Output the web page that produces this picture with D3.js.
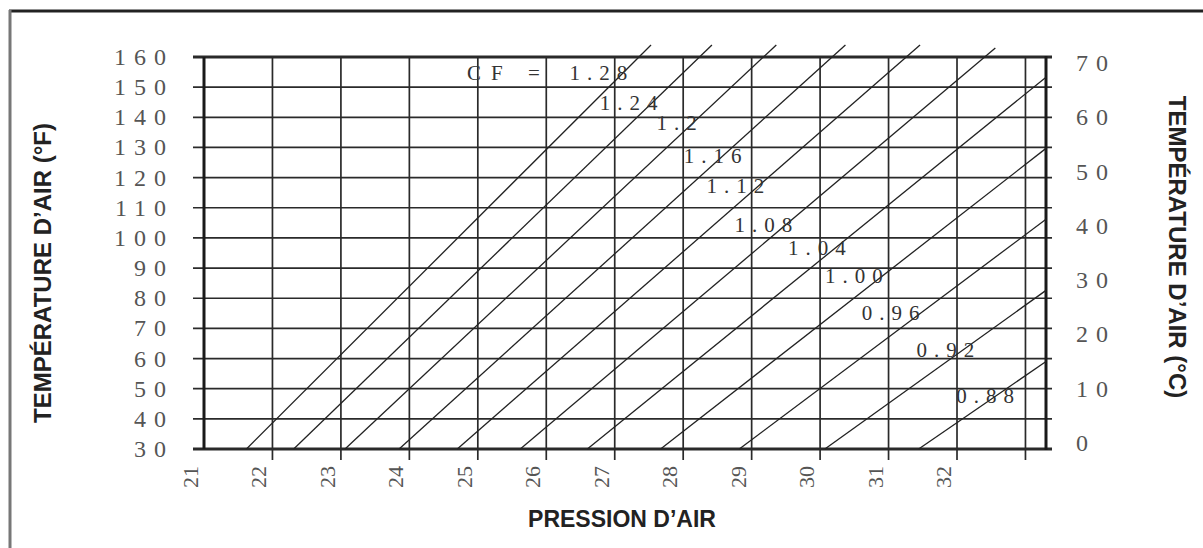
<!DOCTYPE html>
<html>
<head>
<meta charset="utf-8">
<script src="https://cdn.jsdelivr.net/npm/d3@7"></script>
<style>
  html, body { margin: 0; padding: 0; background: #fff; }
  svg { display: block; }
</style>
</head>
<body>
<svg id="chart" width="1203" height="548"></svg>
<script>
// Air pressure (inHg) grid lines and tick labels
const pressureTicks = [21, 22, 23, 24, 25, 26, 27, 28, 29, 30, 31, 32];
const pressureGrid = [22, 23, 24, 25, 26, 27, 28, 29, 30, 31, 32, 33];
// Air temperature ticks
const tempFTicks = [30, 40, 50, 60, 70, 80, 90, 100, 110, 120, 130, 140, 150, 160];
const tempCTicks = [0, 10, 20, 30, 40, 50, 60, 70];

// Correction factor (CF) lines
const cfValues = [1.28, 1.24, 1.20, 1.16, 1.12, 1.08, 1.04, 1.00, 0.96, 0.92, 0.88];
const cfLabels = ["1.28", "1.24", "1.2", "1.16", "1.12", "1.08", "1.04", "1.00", "0.96", "0.92", "0.88"];
// each CF line: pressure where it leaves 30 °F, and its upper end (pressure, °F)
const cfStartP = [21.62, 22.31, 23.06, 23.85, 24.70, 25.62, 26.60, 27.67, 28.82, 30.07, 31.44];
const cfEndP   = [27.53, 28.42, 29.36, 30.37, 31.46, 32.56, 33.30, 33.30, 33.30, 33.30, 33.30];
const cfEndT   = [164, 164, 164, 164, 164, 163, 153.3, 129.7, 106.2, 82.6, 59.0];
// where each CF value is written (pressure, °F at text baseline start)
const cfLabelP = [26.34, 26.78, 27.61, 28.01, 28.34, 28.75, 29.53, 30.07, 30.61, 31.41, 31.99];
const cfLabelT = [152.4, 142.4, 135.8, 124.9, 114.9, 102.0, 94.3, 85.1, 72.8, 60.5, 45.3];

const svg = d3.select("#chart");

const x = d3.scaleLinear().domain([21, 33.3]).range([204, 1046]);
const y = d3.scaleLinear().domain([30, 160]).range([449, 57]);
const fToC = c => c * 1.8 + 32;

// page border
svg.append("line").attr("x1", 9).attr("x2", 1203).attr("y1", 11).attr("y2", 11)
  .attr("stroke", "#222").attr("stroke-width", 3);
svg.append("line").attr("x1", 10).attr("x2", 10).attr("y1", 10).attr("y2", 548)
  .attr("stroke", "#777").attr("stroke-width", 3);

const grid = svg.append("g");

// horizontal temperature lines, running out past the frame on both sides
grid.selectAll("line.h").data(tempFTicks).join("line")
  .attr("class", "h")
  .attr("x1", 193).attr("x2", 1052)
  .attr("y1", d => y(d)).attr("y2", d => y(d))
  .attr("stroke", "#2a2a2a")
  .attr("stroke-width", d => (d === 160 || d === 30) ? 2.8 : 1.7);

// vertical pressure lines, with ticks hanging below the frame
grid.selectAll("line.v").data(pressureGrid).join("line")
  .attr("class", "v")
  .attr("x1", d => x(d)).attr("x2", d => x(d))
  .attr("y1", y(160)).attr("y2", y(30) + 11)
  .attr("stroke", "#2a2a2a").attr("stroke-width", 1.7);

// left and right frame edges
grid.append("line").attr("x1", x(21)).attr("x2", x(21)).attr("y1", y(160)).attr("y2", y(30))
  .attr("stroke", "#1a1a1a").attr("stroke-width", 3);
grid.append("line").attr("x1", x(33.3)).attr("x2", x(33.3)).attr("y1", y(160) - 1).attr("y2", y(30) + 1)
  .attr("stroke", "#1a1a1a").attr("stroke-width", 3);

// CF lines
svg.append("g").selectAll("line").data(cfValues).join("line")
  .attr("x1", (d, i) => x(cfStartP[i])).attr("y1", y(30))
  .attr("x2", (d, i) => x(cfEndP[i])).attr("y2", (d, i) => y(cfEndT[i]))
  .attr("stroke", "#222").attr("stroke-width", 1.3);

// CF labels
const serif = "'Liberation Serif', 'Times New Roman', serif";
svg.append("text").attr("x", 467).attr("y", y(152.4))
  .attr("font-family", serif).attr("font-size", 21).attr("letter-spacing", 10)
  .attr("fill", "#333").text("CF =");
svg.append("g").selectAll("text").data(cfLabels).join("text")
  .attr("x", (d, i) => x(cfLabelP[i])).attr("y", (d, i) => y(cfLabelT[i]))
  .attr("font-family", serif).attr("font-size", 21).attr("letter-spacing", 7)
  .attr("fill", "#333").text(d => d);

// left °F tick labels
svg.append("g").selectAll("text").data(tempFTicks).join("text")
  .attr("x", 174).attr("y", d => y(d) + 8)
  .attr("text-anchor", "end")
  .attr("font-family", serif).attr("font-size", 24).attr("letter-spacing", 8)
  .attr("fill", "#555").text(d => d);

// right °C tick labels
svg.append("g").selectAll("text").data(tempCTicks).join("text")
  .attr("x", 1076).attr("y", d => y(fToC(d)) + 8)
  .attr("font-family", serif).attr("font-size", 24).attr("letter-spacing", 8)
  .attr("fill", "#555").text(d => d);

// bottom pressure tick labels, rotated
svg.append("g").selectAll("text").data(pressureTicks).join("text")
  .attr("transform", d => `translate(${x(d) - 6},477) rotate(-90)`)
  .attr("text-anchor", "middle")
  .attr("font-family", serif).attr("font-size", 22)
  .attr("fill", "#555").text(d => d);

// axis titles
const sans = "'Liberation Sans', Arial, sans-serif";
svg.append("text")
  .attr("transform", "translate(51,273) rotate(-90)")
  .attr("text-anchor", "middle")
  .attr("font-family", sans).attr("font-weight", "bold").attr("font-size", 24)
  .attr("fill", "#222").text("TEMPÉRATURE D’AIR (°F)");
svg.append("text")
  .attr("transform", "translate(1169,247) rotate(90)")
  .attr("text-anchor", "middle")
  .attr("font-family", sans).attr("font-weight", "bold").attr("font-size", 24)
  .attr("fill", "#222").text("TEMPÉRATURE D’AIR (°C)");
svg.append("text")
  .attr("x", 622).attr("y", 527)
  .attr("text-anchor", "middle")
  .attr("font-family", sans).attr("font-weight", "bold").attr("font-size", 23)
  .attr("fill", "#222").text("PRESSION D’AIR");
</script>
</body>
</html>
